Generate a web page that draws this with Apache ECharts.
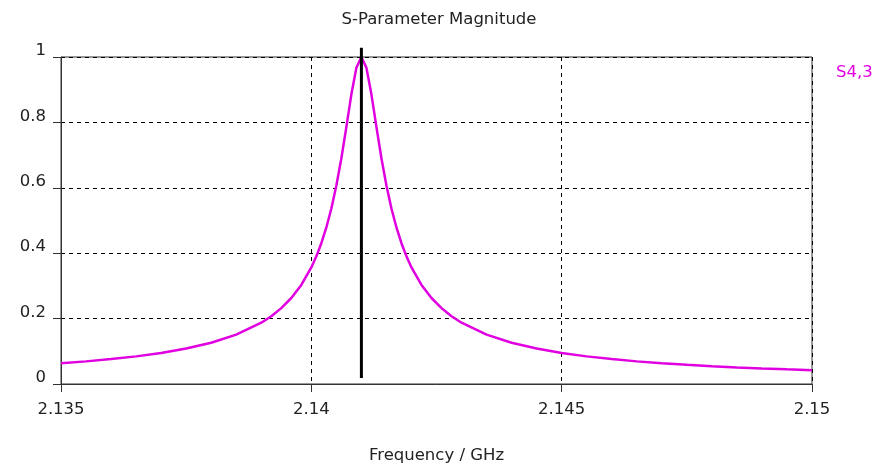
<!DOCTYPE html>
<html>
<head>
<meta charset="utf-8">
<script src="https://cdn.jsdelivr.net/npm/echarts@6/dist/echarts.min.js"></script>
<style>
  html, body { margin: 0; padding: 0; background: #fff; }
  #chart { width: 877px; height: 466px; }
</style>
</head>
<body>
<div id="chart"></div>
<script>
const title = 'S-Parameter Magnitude';
const xName = 'Frequency / GHz';
const seriesName = 'S4,3';

const freq = [
  2.135, 2.1355, 2.136, 2.1365, 2.137, 2.1375, 2.138, 2.1385, 2.139,
  2.1392, 2.1394, 2.1396, 2.1398, 2.14,
  2.1401, 2.1402, 2.1403, 2.1404, 2.1405, 2.1406, 2.1407, 2.1408, 2.1409, 2.141,
  2.1411, 2.1412, 2.1413, 2.1414, 2.1415, 2.1416, 2.1417, 2.1418, 2.1419, 2.142,
  2.1422, 2.1424, 2.1426, 2.1428, 2.143,
  2.1435, 2.144, 2.1445, 2.145, 2.1455, 2.146, 2.1465, 2.147, 2.1475, 2.148, 2.1485, 2.149, 2.1495, 2.15
];
const mag = [
  0.0635, 0.0692, 0.0761, 0.0845, 0.095, 0.1084, 0.1262, 0.1509, 0.1875,
  0.2074, 0.232, 0.263, 0.3031, 0.3566,
  0.3904, 0.4306, 0.4787, 0.5368, 0.6068, 0.6904, 0.7862, 0.8858, 0.9674, 1,
  0.9674, 0.8858, 0.7862, 0.6904, 0.6068, 0.5368, 0.4787, 0.4306, 0.3904, 0.3566,
  0.3031, 0.263, 0.232, 0.2074, 0.1875,
  0.1509, 0.1262, 0.1084, 0.095, 0.0845, 0.0761, 0.0692, 0.0635, 0.0586, 0.0544, 0.0508, 0.0477, 0.0449, 0.0424
];

// vertical marker line at the resonance
const markerFreq = [2.141, 2.141];
const markerMag = [0.018, 1.028];

const xTicks = ['2.135', '2.14', '2.145', '2.15'];
const yTicks = ['0', '0.2', '0.4', '0.6', '0.8', '1'];

const font = 'DejaVu Sans';
const fontSize = 16.5;
const textColor = '#222';
const curveColor = '#e000e0';

const chart = echarts.init(document.getElementById('chart'));

const option = {
  animation: false,
  title: {
    text: title,
    left: 434,
    textAlign: 'center',
    top: 6,
    textStyle: {fontFamily: font, fontSize: fontSize, fontWeight: 'normal', color: textColor},
  },
  legend: {
    data: [{name: seriesName, icon: 'none'}],
    left: 826,
    top: 59,
    itemWidth: 0,
    itemGap: 0,
    selectedMode: false,
    textStyle: {fontFamily: font, fontSize: fontSize, color: curveColor},
  },
  grid: {
    left: 61,
    right: 65,
    top: 57,
    bottom: 82,
    outerBoundsMode: 'none',
    show: true,
    borderColor: '#333',
    borderWidth: 1,
  },
  xAxis: {
    type: 'value',
    min: 2.135,
    max: 2.15,
    interval: 0.005,
    name: xName,
    nameLocation: 'middle',
    nameGap: 63,
    nameTextStyle: {fontFamily: font, fontSize: fontSize, color: textColor},
    axisLine: {show: true, onZero: false, lineStyle: {color: '#333', width: 1}},
    axisTick: {show: true, length: 8, lineStyle: {color: '#333'}},
    axisLabel: {
      margin: 17,
      fontFamily: font,
      fontSize: fontSize,
      color: textColor,
      formatter: (v) => xTicks[Math.round((v - 2.135) / 0.005)] ?? '',
    },
    splitLine: {show: true, lineStyle: {color: '#000', type: [4, 4], width: 1}},
  },
  yAxis: {
    type: 'value',
    min: 0,
    max: 1,
    interval: 0.2,
    axisLine: {show: true, lineStyle: {color: '#333', width: 1}},
    axisTick: {show: true, length: 8, lineStyle: {color: '#333'}},
    axisLabel: {
      margin: 15,
      fontFamily: font,
      fontSize: fontSize,
      color: textColor,
      verticalAlign: 'bottom',
      lineHeight: 12,
      formatter: (v) => yTicks[Math.round(v / 0.2)] ?? '',
    },
    splitLine: {show: true, lineStyle: {color: '#000', type: [4, 4], width: 1}},
  },
  series: [
    {
      name: seriesName,
      type: 'line',
      showSymbol: false,
      smooth: false,
      lineStyle: {color: curveColor, width: 2.5},
      itemStyle: {color: curveColor},
      data: freq.map((f, i) => [f, mag[i]]),
    },
    {
      name: 'marker',
      type: 'line',
      showSymbol: false,
      clip: false,
      lineStyle: {color: '#000', width: 3},
      data: markerFreq.map((f, i) => [f, markerMag[i]]),
    },
  ],
};

chart.setOption(option);
</script>
</body>
</html>
